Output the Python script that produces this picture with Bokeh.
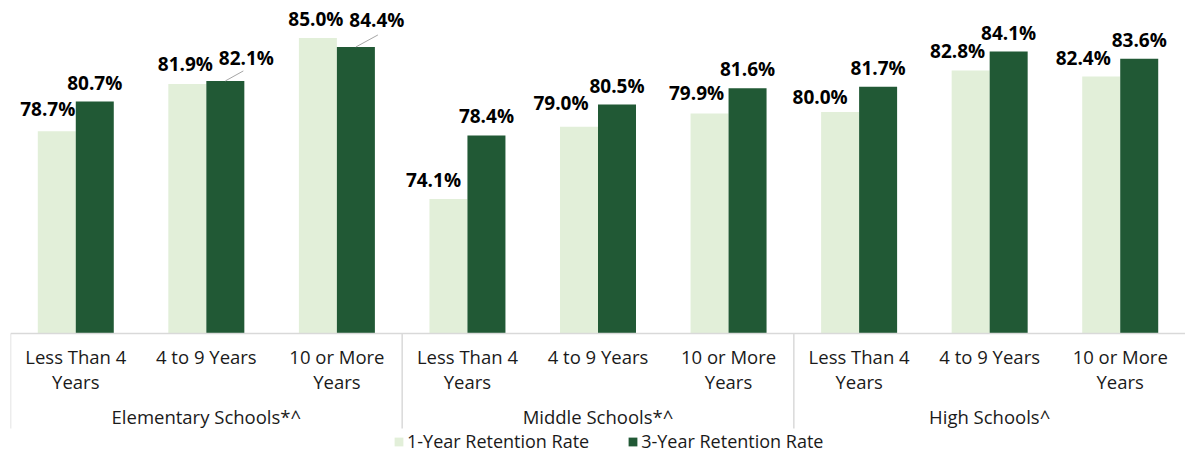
from bokeh.plotting import figure
from bokeh.models import FactorRange, ColumnDataSource, Legend, LegendItem, Span
from bokeh.transform import dodge
from bokeh.core.properties import value
from bokeh.embed import file_html
from bokeh.resources import INLINE

# ---------------- data ----------------
groups = ["Elementary Schools*^", "Middle Schools*^", "High Schools^"]
tenures = ["Less Than 4\nYears", "4 to 9 Years", "10 or More\nYears"]
series_names = ["1-Year Retention Rate", "3-Year Retention Rate"]
one_year = [78.7, 81.9, 85.0, 74.1, 79.0, 79.9, 80.0, 82.8, 82.4]
three_year = [80.7, 82.1, 84.4, 78.4, 80.5, 81.6, 81.7, 84.1, 83.6]

# ---------------- styles ----------------
LIGHT = "#E2EFD9"
DARK = "#215935"
GRID = "#D9D9D9"
FONT = "Open Sans"
BASE = 65.0
W, H = 1185, 453
LEFT = 10
BASE_PX = 333
PX_PER_UNIT = 14.77
Y_MAX = BASE + BASE_PX / PX_PER_UNIT
Y_MIN = BASE - (H - BASE_PX) / PX_PER_UNIT
cat_px = (W - LEFT) / 9
BAR_W = 38 / cat_px
DODGE = BAR_W / 2

# label offsets in screen pixels (dx, dy above bar top)
light_dx = [-9, -2, -2, -15, -18, -13, -20, -13, -18]
light_dy = [22, 20, 19, 19, 24, 20, 15, 20, 19]
dark_dx = [0, 21, 21, 0, 0, 0, 0, 0, 0]
dark_dy = [19, 23, 27, 20, 19, 19, 19, 18, 19]
leaders = [(1, 18, 10), (2, 22, 12)]  # (index, px right, px up)

factors = [(g, t) for g in groups for t in tenures]

src = ColumnDataSource(dict(
    x=factors,
    one=one_year,
    three=three_year,
    one_lbl=[f"{v:.1f}%" for v in one_year],
    three_lbl=[f"{v:.1f}%" for v in three_year],
    ldx=light_dx,
    ldy=[-d for d in light_dy],
    ddx=dark_dx,
    ddy=[-d for d in dark_dy],
))

p = figure(
    x_range=FactorRange(*factors, factor_padding=0, group_padding=0,
                        subgroup_padding=0, range_padding=0),
    y_range=(Y_MIN, Y_MAX),
    width=W, height=H,
    output_backend="svg", toolbar_location=None,
    x_axis_location=None, y_axis_location=None,
    min_border_left=LEFT, min_border_right=0, min_border_top=0, min_border_bottom=0,
)
p.xgrid.visible = False
p.ygrid.visible = False
p.outline_line_color = None

r1 = p.vbar(x=dodge("x", -DODGE, range=p.x_range), top="one", bottom=BASE,
            width=BAR_W, source=src, fill_color=LIGHT, line_color=None)
r2 = p.vbar(x=dodge("x", DODGE, range=p.x_range), top="three", bottom=BASE,
            width=BAR_W, source=src, fill_color=DARK, line_color=None)

# baseline
p.add_layout(Span(location=BASE, dimension="width", line_color=GRID, line_width=1.5))

# leader lines
for idx, px_r, px_u in leaders:
    s = ColumnDataSource(dict(x=[factors[idx]], y0=[three_year[idx]],
                              y1=[three_year[idx] + px_u / PX_PER_UNIT]))
    p.segment(x0=dodge("x", DODGE, range=p.x_range),
              x1=dodge("x", DODGE + px_r / cat_px, range=p.x_range),
              y0="y0", y1="y1", source=s, line_color="#A6A6A6", line_width=1)

# data labels
for xd, col, lbl, dx, dy in [(-DODGE, "one", "one_lbl", "ldx", "ldy"),
                             (DODGE, "three", "three_lbl", "ddx", "ddy")]:
    p.text(x=dodge("x", xd, range=p.x_range), y=col, text=lbl,
           x_offset=dx, y_offset=dy, source=src,
           text_font=value(FONT), text_font_style="bold", text_font_size="19px",
           text_color="#000000", text_align="center", text_baseline="middle")

# category labels
cat_src = ColumnDataSource(dict(x=factors, y=[BASE] * len(factors),
                                t=[t for g in groups for t in tenures]))
p.text(x="x", y="y", text="t", source=cat_src, y_offset=10,
       text_font=value(FONT), text_font_size="18.5px", text_color="#1A1A1A",
       text_align="center", text_baseline="top", text_line_height=1.0)

# group labels
grp_src = ColumnDataSource(dict(x=[(g, tenures[1]) for g in groups],
                                y=[BASE] * len(groups), t=groups))
p.text(x="x", y="y", text="t", source=grp_src, y_offset=83,
       text_font=value(FONT), text_font_size="18.5px", text_color="#1A1A1A",
       text_align="center", text_baseline="middle")

# group separators
sep_src = ColumnDataSource(dict(x=[(g, tenures[0]) for g in groups],
                                y0=[BASE] * len(groups),
                                y1=[BASE - 95 / PX_PER_UNIT] * len(groups)))
p.segment(x0=dodge("x", -0.5, range=p.x_range), x1=dodge("x", -0.5, range=p.x_range),
          y0="y0", y1="y1", source=sep_src, line_color=GRID, line_width=1.5)

legend = Legend(
    items=[LegendItem(label=series_names[0], renderers=[r1]),
           LegendItem(label=series_names[1], renderers=[r2])],
    orientation="horizontal", location=(383, 0),
    glyph_width=11, glyph_height=11, label_standoff=3, spacing=38,
    padding=0, margin=0, border_line_color=None, background_fill_alpha=0,
    label_text_font=FONT, label_text_font_size="18px", label_text_color="#1A1A1A",
)
p.add_layout(legend)

open("out.html", "w").write(file_html(p, INLINE))
